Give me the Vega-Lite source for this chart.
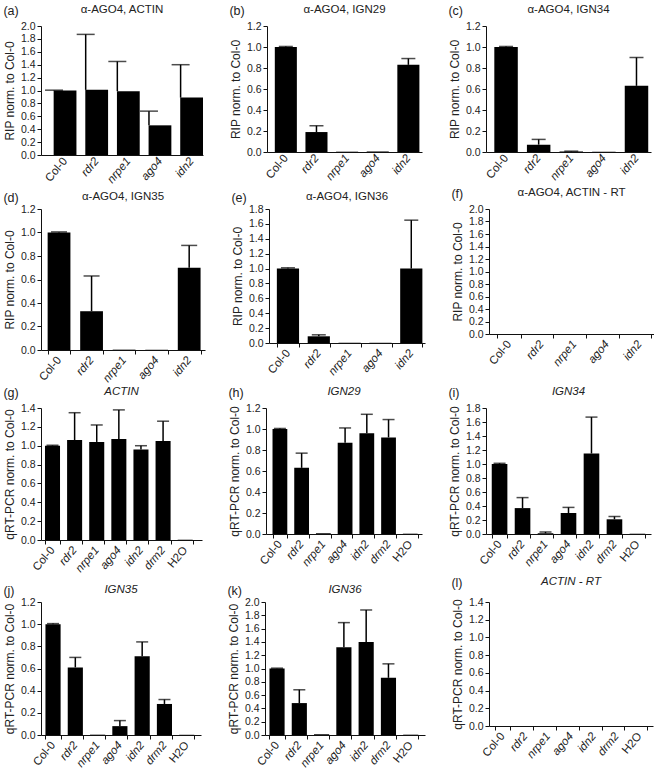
{
"$schema": "https://vega.github.io/schema/vega-lite/v6.json",
"padding": {"left": 3, "top": 3, "right": 0, "bottom": 0},
"spacing": 0,
"config": {
 "font": "Liberation Sans",
 "view": {"stroke": null},
 "axis": {"grid": false, "domainColor": "#111", "domainWidth": 1, "tickColor": "#111", "tickSize": 4, "labelColor": "#222", "labelFontSize": 10.5, "titleColor": "#222", "titleFontSize": 12, "titleFontWeight": "normal", "titlePadding": 4},
 "axisY": {"format": ".1f", "labelPadding": 2, "labelOverlap": false, "labelFlush": false},
 "axisX": {"labelAngle": -50, "title": null, "tickBand": "extent", "labelPadding": 4, "labelFontSize": 11.5},
 "title": {"fontSize": 11.5, "fontWeight": "normal", "color": "#222", "offset": 6},
 "concat": {"spacing": 26}
},
"data": {"values": [
 {"p":"a","g":"Col-0","v":1.0,"hi":1.005},
 {"p":"a","g":"rdr2","v":1.01,"hi":1.87},
 {"p":"a","g":"nrpe1","v":0.99,"hi":1.45},
 {"p":"a","g":"ago4","v":0.46,"hi":0.68},
 {"p":"a","g":"idn2","v":0.89,"hi":1.40},
 {"p":"b","g":"Col-0","v":1.0,"hi":1.005},
 {"p":"b","g":"rdr2","v":0.19,"hi":0.25},
 {"p":"b","g":"nrpe1","v":0.003,"hi":null},
 {"p":"b","g":"ago4","v":0.005,"hi":null},
 {"p":"b","g":"idn2","v":0.83,"hi":0.89},
 {"p":"c","g":"Col-0","v":1.0,"hi":1.005},
 {"p":"c","g":"rdr2","v":0.07,"hi":0.12},
 {"p":"c","g":"nrpe1","v":0.005,"hi":0.008},
 {"p":"c","g":"ago4","v":0.003,"hi":null},
 {"p":"c","g":"idn2","v":0.63,"hi":0.90},
 {"p":"d","g":"Col-0","v":1.0,"hi":1.005},
 {"p":"d","g":"rdr2","v":0.33,"hi":0.63},
 {"p":"d","g":"nrpe1","v":0.003,"hi":null},
 {"p":"d","g":"ago4","v":0.002,"hi":null},
 {"p":"d","g":"idn2","v":0.70,"hi":0.89},
 {"p":"e","g":"Col-0","v":1.0,"hi":1.01},
 {"p":"e","g":"rdr2","v":0.09,"hi":0.11},
 {"p":"e","g":"nrpe1","v":0.002,"hi":null},
 {"p":"e","g":"ago4","v":0.003,"hi":null},
 {"p":"e","g":"idn2","v":1.0,"hi":1.65},
 {"p":"f","g":"Col-0","v":0,"hi":null},
 {"p":"f","g":"rdr2","v":0,"hi":null},
 {"p":"f","g":"nrpe1","v":0,"hi":null},
 {"p":"f","g":"ago4","v":0,"hi":null},
 {"p":"f","g":"idn2","v":0,"hi":null},
 {"p":"g","g":"Col-0","v":1.0,"hi":1.005},
 {"p":"g","g":"rdr2","v":1.06,"hi":1.35},
 {"p":"g","g":"nrpe1","v":1.04,"hi":1.22},
 {"p":"g","g":"ago4","v":1.07,"hi":1.38},
 {"p":"g","g":"idn2","v":0.96,"hi":1.0},
 {"p":"g","g":"drm2","v":1.05,"hi":1.26},
 {"p":"g","g":"H2O","v":0.003,"hi":null},
 {"p":"h","g":"Col-0","v":1.0,"hi":1.005},
 {"p":"h","g":"rdr2","v":0.63,"hi":0.77},
 {"p":"h","g":"nrpe1","v":0.006,"hi":null},
 {"p":"h","g":"ago4","v":0.87,"hi":1.01},
 {"p":"h","g":"idn2","v":0.96,"hi":1.14},
 {"p":"h","g":"drm2","v":0.92,"hi":1.09},
 {"p":"h","g":"H2O","v":0.003,"hi":null},
 {"p":"i","g":"Col-0","v":1.0,"hi":1.01},
 {"p":"i","g":"rdr2","v":0.37,"hi":0.52},
 {"p":"i","g":"nrpe1","v":0.01,"hi":0.03},
 {"p":"i","g":"ago4","v":0.30,"hi":0.38},
 {"p":"i","g":"idn2","v":1.15,"hi":1.67},
 {"p":"i","g":"drm2","v":0.21,"hi":0.25},
 {"p":"i","g":"H2O","v":0.004,"hi":null},
 {"p":"j","g":"Col-0","v":1.0,"hi":1.005},
 {"p":"j","g":"rdr2","v":0.61,"hi":0.70},
 {"p":"j","g":"nrpe1","v":0.003,"hi":null},
 {"p":"j","g":"ago4","v":0.08,"hi":0.13},
 {"p":"j","g":"idn2","v":0.71,"hi":0.84},
 {"p":"j","g":"drm2","v":0.28,"hi":0.32},
 {"p":"j","g":"H2O","v":0.002,"hi":null},
 {"p":"k","g":"Col-0","v":1.0,"hi":1.005},
 {"p":"k","g":"rdr2","v":0.48,"hi":0.68},
 {"p":"k","g":"nrpe1","v":0.01,"hi":null},
 {"p":"k","g":"ago4","v":1.32,"hi":1.69},
 {"p":"k","g":"idn2","v":1.40,"hi":1.88},
 {"p":"k","g":"drm2","v":0.86,"hi":1.07},
 {"p":"k","g":"H2O","v":0.005,"hi":null},
 {"p":"l","g":"Col-0","v":0,"hi":null},
 {"p":"l","g":"rdr2","v":0,"hi":null},
 {"p":"l","g":"nrpe1","v":0,"hi":null},
 {"p":"l","g":"ago4","v":0,"hi":null},
 {"p":"l","g":"idn2","v":0,"hi":null},
 {"p":"l","g":"drm2","v":0,"hi":null},
 {"p":"l","g":"H2O","v":0,"hi":null}
]},
"vconcat": [
 {"hconcat": [
  {"title": {"text": "(a)", "anchor": "start", "fontSize": 12.5, "offset": -14, "frame": "bounds"},
   "vconcat": [{"width": 162, "height": 129, "title": "α-AGO4, ACTIN",
    "transform": [{"filter": "datum.p=='a'"}],
    "encoding": {"x": {"field": "g", "type": "nominal", "sort": null, "scale": {"paddingInner": 0.28, "paddingOuter": 0.2, "align": 1}, "axis": {"ticks": false, "labelFontStyle": {"condition": {"test": "datum.value=='Col-0'||datum.value=='H2O'", "value": "normal"}, "value": "italic"}}}},
    "layer": [
     {"mark": {"type": "bar", "color": "black"}, "encoding": {"y": {"field": "v", "type": "quantitative", "scale": {"domain": [0, 2], "nice": false}, "axis": {"title": "RIP norm. to Col-0", "labelOverlap": false, "values": [0,0.2,0.4,0.6,0.8,1,1.2,1.4,1.6,1.8,2]}}}},
     {"transform": [{"filter": "datum.hi != null"}], "mark": {"type": "rule", "color": "black", "strokeWidth": 1.5, "xOffset": -11}, "encoding": {"y": {"field": "v", "type": "quantitative", "axis": {"title": "RIP norm. to Col-0", "labelOverlap": false, "values": [0,0.2,0.4,0.6,0.8,1,1.2,1.4,1.6,1.8,2]}}, "y2": {"field": "hi"}}},
     {"transform": [{"filter": "datum.hi != null"}], "mark": {"type": "tick", "color": "black", "thickness": 1.5, "size": 18, "xOffset": -11}, "encoding": {"y": {"field": "hi", "type": "quantitative", "axis": {"title": "RIP norm. to Col-0", "labelOverlap": false, "values": [0,0.2,0.4,0.6,0.8,1,1.2,1.4,1.6,1.8,2]}}}}
    ]}]},
  {"title": {"text": "(b)", "anchor": "start", "fontSize": 12.5, "offset": -14, "frame": "bounds"},
   "vconcat": [{"width": 155, "height": 126, "title": "α-AGO4, IGN29",
    "transform": [{"filter": "datum.p=='b'"}],
    "encoding": {"x": {"field": "g", "type": "nominal", "sort": null, "scale": {"paddingInner": 0.28, "paddingOuter": 0.17, "align": 0.75}, "axis": {"ticks": false, "labelFontStyle": {"condition": {"test": "datum.value=='Col-0'||datum.value=='H2O'", "value": "normal"}, "value": "italic"}}}},
    "layer": [
     {"mark": {"type": "bar", "color": "black"}, "encoding": {"y": {"field": "v", "type": "quantitative", "scale": {"domain": [0, 1.2], "nice": false}, "axis": {"title": "RIP norm. to Col-0", "labelOverlap": false, "values": [0,0.2,0.4,0.6,0.8,1,1.2]}}}},
     {"transform": [{"filter": "datum.hi != null"}], "mark": {"type": "rule", "color": "black", "strokeWidth": 1.5}, "encoding": {"y": {"field": "v", "type": "quantitative", "axis": {"title": "RIP norm. to Col-0", "labelOverlap": false, "values": [0,0.2,0.4,0.6,0.8,1,1.2]}}, "y2": {"field": "hi"}}},
     {"transform": [{"filter": "datum.hi != null"}], "mark": {"type": "tick", "color": "black", "thickness": 1.5, "size": 14}, "encoding": {"y": {"field": "hi", "type": "quantitative", "axis": {"title": "RIP norm. to Col-0", "labelOverlap": false, "values": [0,0.2,0.4,0.6,0.8,1,1.2]}}}}
    ]}]},
  {"title": {"text": "(c)", "anchor": "start", "fontSize": 12.5, "offset": -14, "frame": "bounds"},
   "vconcat": [{"width": 165, "height": 126, "title": "α-AGO4, IGN34",
    "transform": [{"filter": "datum.p=='c'"}],
    "encoding": {"x": {"field": "g", "type": "nominal", "sort": null, "scale": {"paddingInner": 0.28, "paddingOuter": 0.17, "align": 0.75}, "axis": {"ticks": false, "labelFontStyle": {"condition": {"test": "datum.value=='Col-0'||datum.value=='H2O'", "value": "normal"}, "value": "italic"}}}},
    "layer": [
     {"mark": {"type": "bar", "color": "black"}, "encoding": {"y": {"field": "v", "type": "quantitative", "scale": {"domain": [0, 1.2], "nice": false}, "axis": {"title": "RIP norm. to Col-0", "labelOverlap": false, "values": [0,0.2,0.4,0.6,0.8,1,1.2]}}}},
     {"transform": [{"filter": "datum.hi != null"}], "mark": {"type": "rule", "color": "black", "strokeWidth": 1.5}, "encoding": {"y": {"field": "v", "type": "quantitative", "axis": {"title": "RIP norm. to Col-0", "labelOverlap": false, "values": [0,0.2,0.4,0.6,0.8,1,1.2]}}, "y2": {"field": "hi"}}},
     {"transform": [{"filter": "datum.hi != null"}], "mark": {"type": "tick", "color": "black", "thickness": 1.5, "size": 14}, "encoding": {"y": {"field": "hi", "type": "quantitative", "axis": {"title": "RIP norm. to Col-0", "labelOverlap": false, "values": [0,0.2,0.4,0.6,0.8,1,1.2]}}}}
    ]}]}
 ]},
 {"hconcat": [
  {"title": {"text": "(d)", "anchor": "start", "fontSize": 12.5, "offset": -14, "frame": "bounds"},
   "vconcat": [{"width": 164, "height": 141, "title": {"text": "α-AGO4, IGN35", "offset": 2},
    "transform": [{"filter": "datum.p=='d'"}],
    "encoding": {"x": {"field": "g", "type": "nominal", "sort": null, "scale": {"paddingInner": 0.3, "paddingOuter": 0.17, "align": 0.6}, "axis": {"labelFontStyle": {"condition": {"test": "datum.value=='Col-0'||datum.value=='H2O'", "value": "normal"}, "value": "italic"}}}},
    "layer": [
     {"mark": {"type": "bar", "color": "black"}, "encoding": {"y": {"field": "v", "type": "quantitative", "scale": {"domain": [0, 1.2], "nice": false}, "axis": {"title": "RIP norm. to Col-0", "labelOverlap": false, "values": [0,0.2,0.4,0.6,0.8,1,1.2]}}}},
     {"transform": [{"filter": "datum.hi != null"}], "mark": {"type": "rule", "color": "black", "strokeWidth": 1.5}, "encoding": {"y": {"field": "v", "type": "quantitative", "axis": {"title": "RIP norm. to Col-0", "labelOverlap": false, "values": [0,0.2,0.4,0.6,0.8,1,1.2]}}, "y2": {"field": "hi"}}},
     {"transform": [{"filter": "datum.hi != null"}], "mark": {"type": "tick", "color": "black", "thickness": 1.5, "size": 16}, "encoding": {"y": {"field": "hi", "type": "quantitative", "axis": {"title": "RIP norm. to Col-0", "labelOverlap": false, "values": [0,0.2,0.4,0.6,0.8,1,1.2]}}}}
    ]}]},
  {"title": {"text": "(e)", "anchor": "start", "fontSize": 12.5, "offset": -14, "frame": "bounds"},
   "vconcat": [{"width": 156, "height": 134, "title": {"text": "α-AGO4, IGN36", "offset": 2},
    "transform": [{"filter": "datum.p=='e'"}],
    "encoding": {"x": {"field": "g", "type": "nominal", "sort": null, "scale": {"paddingInner": 0.28, "paddingOuter": 0.17, "align": 0.75}, "axis": {"labelFontStyle": {"condition": {"test": "datum.value=='Col-0'||datum.value=='H2O'", "value": "normal"}, "value": "italic"}}}},
    "layer": [
     {"mark": {"type": "bar", "color": "black"}, "encoding": {"y": {"field": "v", "type": "quantitative", "scale": {"domain": [0, 1.8], "nice": false}, "axis": {"title": "RIP norm. to Col-0", "labelOverlap": false, "values": [0,0.2,0.4,0.6,0.8,1,1.2,1.4,1.6,1.8]}}}},
     {"transform": [{"filter": "datum.hi != null"}], "mark": {"type": "rule", "color": "black", "strokeWidth": 1.5}, "encoding": {"y": {"field": "v", "type": "quantitative", "axis": {"title": "RIP norm. to Col-0", "labelOverlap": false, "values": [0,0.2,0.4,0.6,0.8,1,1.2,1.4,1.6,1.8]}}, "y2": {"field": "hi"}}},
     {"transform": [{"filter": "datum.hi != null"}], "mark": {"type": "tick", "color": "black", "thickness": 1.5, "size": 14}, "encoding": {"y": {"field": "hi", "type": "quantitative", "axis": {"title": "RIP norm. to Col-0", "labelOverlap": false, "values": [0,0.2,0.4,0.6,0.8,1,1.2,1.4,1.6,1.8]}}}}
    ]}]},
  {"title": {"text": "(f)", "anchor": "start", "fontSize": 12.5, "offset": -14, "frame": "bounds"},
   "vconcat": [{"width": 165, "height": 125, "title": {"text": "α-AGO4, ACTIN - RT", "offset": 6},
    "transform": [{"filter": "datum.p=='f'"}],
    "encoding": {"x": {"field": "g", "type": "nominal", "sort": null, "scale": {"paddingInner": 0.28, "paddingOuter": 0.17, "align": 0.75}, "axis": {"labelFontStyle": {"condition": {"test": "datum.value=='Col-0'||datum.value=='H2O'", "value": "normal"}, "value": "italic"}}}},
    "layer": [
     {"mark": {"type": "bar", "color": "black"}, "encoding": {"y": {"field": "v", "type": "quantitative", "scale": {"domain": [0, 2], "nice": false}, "axis": {"title": "RIP norm. to Col-0", "labelOverlap": false, "values": [0,0.2,0.4,0.6,0.8,1,1.2,1.4,1.6,1.8,2]}}}}
    ]}]}
 ]},
 {"hconcat": [
  {"title": {"text": "(g)", "anchor": "start", "fontSize": 12.5, "offset": -14, "frame": "bounds"},
   "vconcat": [{"width": 161, "height": 132, "title": {"text": "ACTIN", "fontStyle": "italic", "offset": 6},
    "transform": [{"filter": "datum.p=='g'"}],
    "encoding": {"x": {"field": "g", "type": "nominal", "sort": null, "scale": {"paddingInner": 0.32, "paddingOuter": 0.3, "align": 0.3}, "axis": {"labelFontStyle": {"condition": {"test": "datum.value=='Col-0'||datum.value=='H2O'", "value": "normal"}, "value": "italic"}}}},
    "layer": [
     {"mark": {"type": "bar", "color": "black"}, "encoding": {"y": {"field": "v", "type": "quantitative", "scale": {"domain": [0, 1.4], "nice": false}, "axis": {"title": "qRT-PCR norm. to Col-0", "labelOverlap": false, "values": [0,0.2,0.4,0.6,0.8,1,1.2,1.4]}}}},
     {"transform": [{"filter": "datum.hi != null"}], "mark": {"type": "rule", "color": "black", "strokeWidth": 1.5}, "encoding": {"y": {"field": "v", "type": "quantitative", "axis": {"title": "qRT-PCR norm. to Col-0", "labelOverlap": false, "values": [0,0.2,0.4,0.6,0.8,1,1.2,1.4]}}, "y2": {"field": "hi"}}},
     {"transform": [{"filter": "datum.hi != null"}], "mark": {"type": "tick", "color": "black", "thickness": 1.5, "size": 12}, "encoding": {"y": {"field": "hi", "type": "quantitative", "axis": {"title": "qRT-PCR norm. to Col-0", "labelOverlap": false, "values": [0,0.2,0.4,0.6,0.8,1,1.2,1.4]}}}}
    ]}]},
  {"title": {"text": "(h)", "anchor": "start", "fontSize": 12.5, "offset": -14, "frame": "bounds"},
   "vconcat": [{"width": 156, "height": 126, "title": {"text": "IGN29", "fontStyle": "italic", "offset": 6},
    "transform": [{"filter": "datum.p=='h'"}],
    "encoding": {"x": {"field": "g", "type": "nominal", "sort": null, "scale": {"paddingInner": 0.32, "paddingOuter": 0.25, "align": 0.6}, "axis": {"labelFontStyle": {"condition": {"test": "datum.value=='Col-0'||datum.value=='H2O'", "value": "normal"}, "value": "italic"}}}},
    "layer": [
     {"mark": {"type": "bar", "color": "black"}, "encoding": {"y": {"field": "v", "type": "quantitative", "scale": {"domain": [0, 1.2], "nice": false}, "axis": {"title": "qRT-PCR norm. to Col-0", "labelOverlap": false, "values": [0,0.2,0.4,0.6,0.8,1,1.2]}}}},
     {"transform": [{"filter": "datum.hi != null"}], "mark": {"type": "rule", "color": "black", "strokeWidth": 1.5}, "encoding": {"y": {"field": "v", "type": "quantitative", "axis": {"title": "qRT-PCR norm. to Col-0", "labelOverlap": false, "values": [0,0.2,0.4,0.6,0.8,1,1.2]}}, "y2": {"field": "hi"}}},
     {"transform": [{"filter": "datum.hi != null"}], "mark": {"type": "tick", "color": "black", "thickness": 1.5, "size": 12}, "encoding": {"y": {"field": "hi", "type": "quantitative", "axis": {"title": "qRT-PCR norm. to Col-0", "labelOverlap": false, "values": [0,0.2,0.4,0.6,0.8,1,1.2]}}}}
    ]}]},
  {"title": {"text": "(i)", "anchor": "start", "fontSize": 12.5, "offset": -14, "frame": "bounds"},
   "vconcat": [{"width": 165, "height": 126, "title": {"text": "IGN34", "fontStyle": "italic", "offset": 6},
    "transform": [{"filter": "datum.p=='i'"}],
    "encoding": {"x": {"field": "g", "type": "nominal", "sort": null, "scale": {"paddingInner": 0.32, "paddingOuter": 0.25, "align": 0.5}, "axis": {"labelFontStyle": {"condition": {"test": "datum.value=='Col-0'||datum.value=='H2O'", "value": "normal"}, "value": "italic"}}}},
    "layer": [
     {"mark": {"type": "bar", "color": "black"}, "encoding": {"y": {"field": "v", "type": "quantitative", "scale": {"domain": [0, 1.8], "nice": false}, "axis": {"title": "qRT-PCR norm. to Col-0", "labelOverlap": false, "values": [0,0.2,0.4,0.6,0.8,1,1.2,1.4,1.6,1.8]}}}},
     {"transform": [{"filter": "datum.hi != null"}], "mark": {"type": "rule", "color": "black", "strokeWidth": 1.5}, "encoding": {"y": {"field": "v", "type": "quantitative", "axis": {"title": "qRT-PCR norm. to Col-0", "labelOverlap": false, "values": [0,0.2,0.4,0.6,0.8,1,1.2,1.4,1.6,1.8]}}, "y2": {"field": "hi"}}},
     {"transform": [{"filter": "datum.hi != null"}], "mark": {"type": "tick", "color": "black", "thickness": 1.5, "size": 12}, "encoding": {"y": {"field": "hi", "type": "quantitative", "axis": {"title": "qRT-PCR norm. to Col-0", "labelOverlap": false, "values": [0,0.2,0.4,0.6,0.8,1,1.2,1.4,1.6,1.8]}}}}
    ]}]}
 ]},
 {"hconcat": [
  {"title": {"text": "(j)", "anchor": "start", "fontSize": 12.5, "offset": -14, "frame": "bounds"},
   "vconcat": [{"width": 160, "height": 133, "title": {"text": "IGN35", "fontStyle": "italic", "offset": 2},
    "transform": [{"filter": "datum.p=='j'"}],
    "encoding": {"x": {"field": "g", "type": "nominal", "sort": null, "scale": {"paddingInner": 0.32, "paddingOuter": 0.25, "align": 0.4}, "axis": {"labelFontStyle": {"condition": {"test": "datum.value=='Col-0'||datum.value=='H2O'", "value": "normal"}, "value": "italic"}}}},
    "layer": [
     {"mark": {"type": "bar", "color": "black"}, "encoding": {"y": {"field": "v", "type": "quantitative", "scale": {"domain": [0, 1.2], "nice": false}, "axis": {"title": "qRT-PCR norm. to Col-0", "labelOverlap": false, "values": [0,0.2,0.4,0.6,0.8,1,1.2]}}}},
     {"transform": [{"filter": "datum.hi != null"}], "mark": {"type": "rule", "color": "black", "strokeWidth": 1.5}, "encoding": {"y": {"field": "v", "type": "quantitative", "axis": {"title": "qRT-PCR norm. to Col-0", "labelOverlap": false, "values": [0,0.2,0.4,0.6,0.8,1,1.2]}}, "y2": {"field": "hi"}}},
     {"transform": [{"filter": "datum.hi != null"}], "mark": {"type": "tick", "color": "black", "thickness": 1.5, "size": 12}, "encoding": {"y": {"field": "hi", "type": "quantitative", "axis": {"title": "qRT-PCR norm. to Col-0", "labelOverlap": false, "values": [0,0.2,0.4,0.6,0.8,1,1.2]}}}}
    ]}]},
  {"title": {"text": "(k)", "anchor": "start", "fontSize": 12.5, "offset": -14, "frame": "bounds"},
   "vconcat": [{"width": 160, "height": 133, "title": {"text": "IGN36", "fontStyle": "italic", "offset": 2},
    "transform": [{"filter": "datum.p=='k'"}],
    "encoding": {"x": {"field": "g", "type": "nominal", "sort": null, "scale": {"paddingInner": 0.32, "paddingOuter": 0.25, "align": 0.4}, "axis": {"labelFontStyle": {"condition": {"test": "datum.value=='Col-0'||datum.value=='H2O'", "value": "normal"}, "value": "italic"}}}},
    "layer": [
     {"mark": {"type": "bar", "color": "black"}, "encoding": {"y": {"field": "v", "type": "quantitative", "scale": {"domain": [0, 2], "nice": false}, "axis": {"title": "qRT-PCR norm. to Col-0", "labelOverlap": false, "values": [0,0.2,0.4,0.6,0.8,1,1.2,1.4,1.6,1.8,2]}}}},
     {"transform": [{"filter": "datum.hi != null"}], "mark": {"type": "rule", "color": "black", "strokeWidth": 1.5}, "encoding": {"y": {"field": "v", "type": "quantitative", "axis": {"title": "qRT-PCR norm. to Col-0", "labelOverlap": false, "values": [0,0.2,0.4,0.6,0.8,1,1.2,1.4,1.6,1.8,2]}}, "y2": {"field": "hi"}}},
     {"transform": [{"filter": "datum.hi != null"}], "mark": {"type": "tick", "color": "black", "thickness": 1.5, "size": 12}, "encoding": {"y": {"field": "hi", "type": "quantitative", "axis": {"title": "qRT-PCR norm. to Col-0", "labelOverlap": false, "values": [0,0.2,0.4,0.6,0.8,1,1.2,1.4,1.6,1.8,2]}}}}
    ]}]},
  {"title": {"text": "(l)", "anchor": "start", "fontSize": 12.5, "offset": -14, "frame": "bounds"},
   "vconcat": [{"width": 164, "height": 124, "title": {"text": "ACTIN - RT", "fontStyle": "italic", "offset": 10},
    "transform": [{"filter": "datum.p=='l'"}],
    "encoding": {"x": {"field": "g", "type": "nominal", "sort": null, "scale": {"paddingInner": 0.32, "paddingOuter": 0.25, "align": 0.5}, "axis": {"labelFontStyle": {"condition": {"test": "datum.value=='Col-0'||datum.value=='H2O'", "value": "normal"}, "value": "italic"}}}},
    "layer": [
     {"mark": {"type": "bar", "color": "black"}, "encoding": {"y": {"field": "v", "type": "quantitative", "scale": {"domain": [0, 1.4], "nice": false}, "axis": {"title": "qRT-PCR norm. to Col-0", "labelOverlap": false, "values": [0,0.2,0.4,0.6,0.8,1,1.2,1.4]}}}}
    ]}]}
 ]}
]
}
